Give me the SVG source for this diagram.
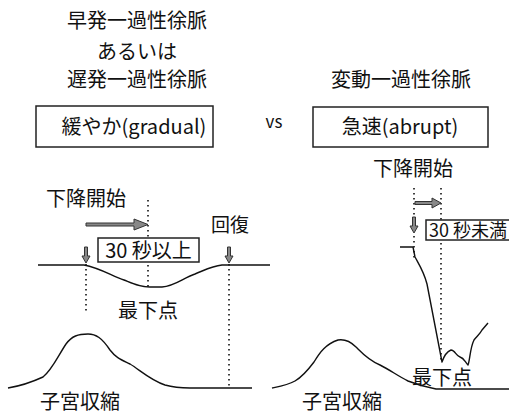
<svg xmlns="http://www.w3.org/2000/svg" width="509" height="414" viewBox="0 0 509 414">
<style>
text{font-family:"Noto Sans CJK JP","Noto Sans",sans-serif;fill:#111;text-anchor:middle}
.t20{font-size:20px}
.t19{font-size:19px}
.box{fill:#fff;stroke:#222;stroke-width:1.5}
.curve{fill:none;stroke:#111;stroke-width:1.4;stroke-linejoin:round}
.dot{fill:none;stroke:#111;stroke-width:1.6;stroke-dasharray:1.5 3.5}
.garrow{fill:#888;stroke:#333;stroke-width:1}
</style>
<rect width="509" height="414" fill="#fff"/>
<g id="title-left">
<text class="t20" x="137" y="28">早発一過性徐脈</text>
<text class="t20" x="137" y="59">あるいは</text>
<text class="t20" x="137" y="87">遅発一過性徐脈</text>
</g>
<g id="box-gradual">
<rect class="box" x="36" y="106" width="177" height="41"/>
<text class="t20" x="134" y="134">緩やか(gradual)</text>
</g>
<g id="vs"><text style="font-size:17px" x="274" y="128">vs</text></g>
<g id="title-right"><text class="t20" x="401" y="87">変動一過性徐脈</text></g>
<g id="box-abrupt">
<rect class="box" x="313" y="107" width="175" height="40"/>
<text class="t20" x="400" y="134">急速(abrupt)</text>
</g>
<g id="connectors">
<path class="curve" d="M38 265 L84 265 C100 268 112 276 124 280 C134 284 140 287 150 287 L162 287 C175 286 183 278 195 274 C205 270 212 266 222 265 L270 265"/>
<path class="curve" d="M8 388 C20 386 30 383 43 377 C52 370 58 356 66 344 C72 336 78 334 88 334 C96 334 102 338 110 350 C116 358 122 360 130 364 C140 370 150 380 165 385 C172 387 178 388 190 388 L252 388"/>
<line class="dot" x1="86" y1="264" x2="86" y2="314"/>
<line class="dot" x1="148" y1="200" x2="148" y2="287"/>
<line class="dot" x1="229" y1="264" x2="229" y2="388"/>
<polygon class="garrow" points="86,223 134,223 134,219 148,224.5 134,230 134,226 86,226"/>
<polygon class="garrow" points="84.5,247 87.5,247 87.5,256 90,256 86,263 82,256 84.5,256"/>
<polygon class="garrow" points="227.5,247 230.5,247 230.5,256 233,256 229,263 225,256 227.5,256"/>
<path class="curve" d="M400 247 L413 247 L415 257 C420 266 424 272 427 284 L442 362 C444 356 446 352 451 350 C455 350 456 356 460 357 C464 358 465 362 468 365 C470 360 470 348 474 340 C477 336 480 334 482 330 L488 323"/>
<path class="curve" d="M272 388 C282 386 288 385 295 381 C302 377 308 370 314 362 C320 352 326 344 338 340 C344 339 350 341 356 347 C362 353 368 360 380 365 C390 370 398 376 408 381 C418 385 425 387 436 389 L509 389"/>
<line class="dot" x1="414" y1="188" x2="414" y2="215"/>
<line class="dot" x1="414" y1="236" x2="414" y2="260"/>
<line class="dot" x1="441" y1="188" x2="441" y2="362"/>
<polygon class="garrow" points="415,201.5 432,201.5 432,198 441,203 432,208 432,204.5 415,204.5"/>
<polygon class="garrow" points="412.5,217 415.5,217 415.5,226 418,226 414,233 410,226 412.5,226"/>
</g>
<g id="label-left-start"><text class="t20" x="86" y="206">下降開始</text></g>
<g id="box-30-over">
<rect class="box" x="98" y="238" width="101" height="24"/>
<text class="t20" x="148.5" y="258">30 秒以上</text>
</g>
<g id="label-recovery"><text class="t19" x="230" y="232">回復</text></g>
<g id="label-left-nadir"><text class="t20" x="148" y="318">最下点</text></g>
<g id="label-left-contraction"><text class="t20" x="80" y="409">子宮収縮</text></g>
<g id="label-right-start"><text class="t20" x="413" y="176">下降開始</text></g>
<g id="box-30-under">
<rect class="box" x="426" y="220" width="100" height="20"/>
<text x="429" y="237" style="text-anchor:start;font-size:18px">30 秒未満</text>
</g>
<g id="label-right-nadir"><text class="t20" x="442" y="385">最下点</text></g>
<g id="label-right-contraction"><text class="t20" x="342" y="409">子宮収縮</text></g>
</svg>
